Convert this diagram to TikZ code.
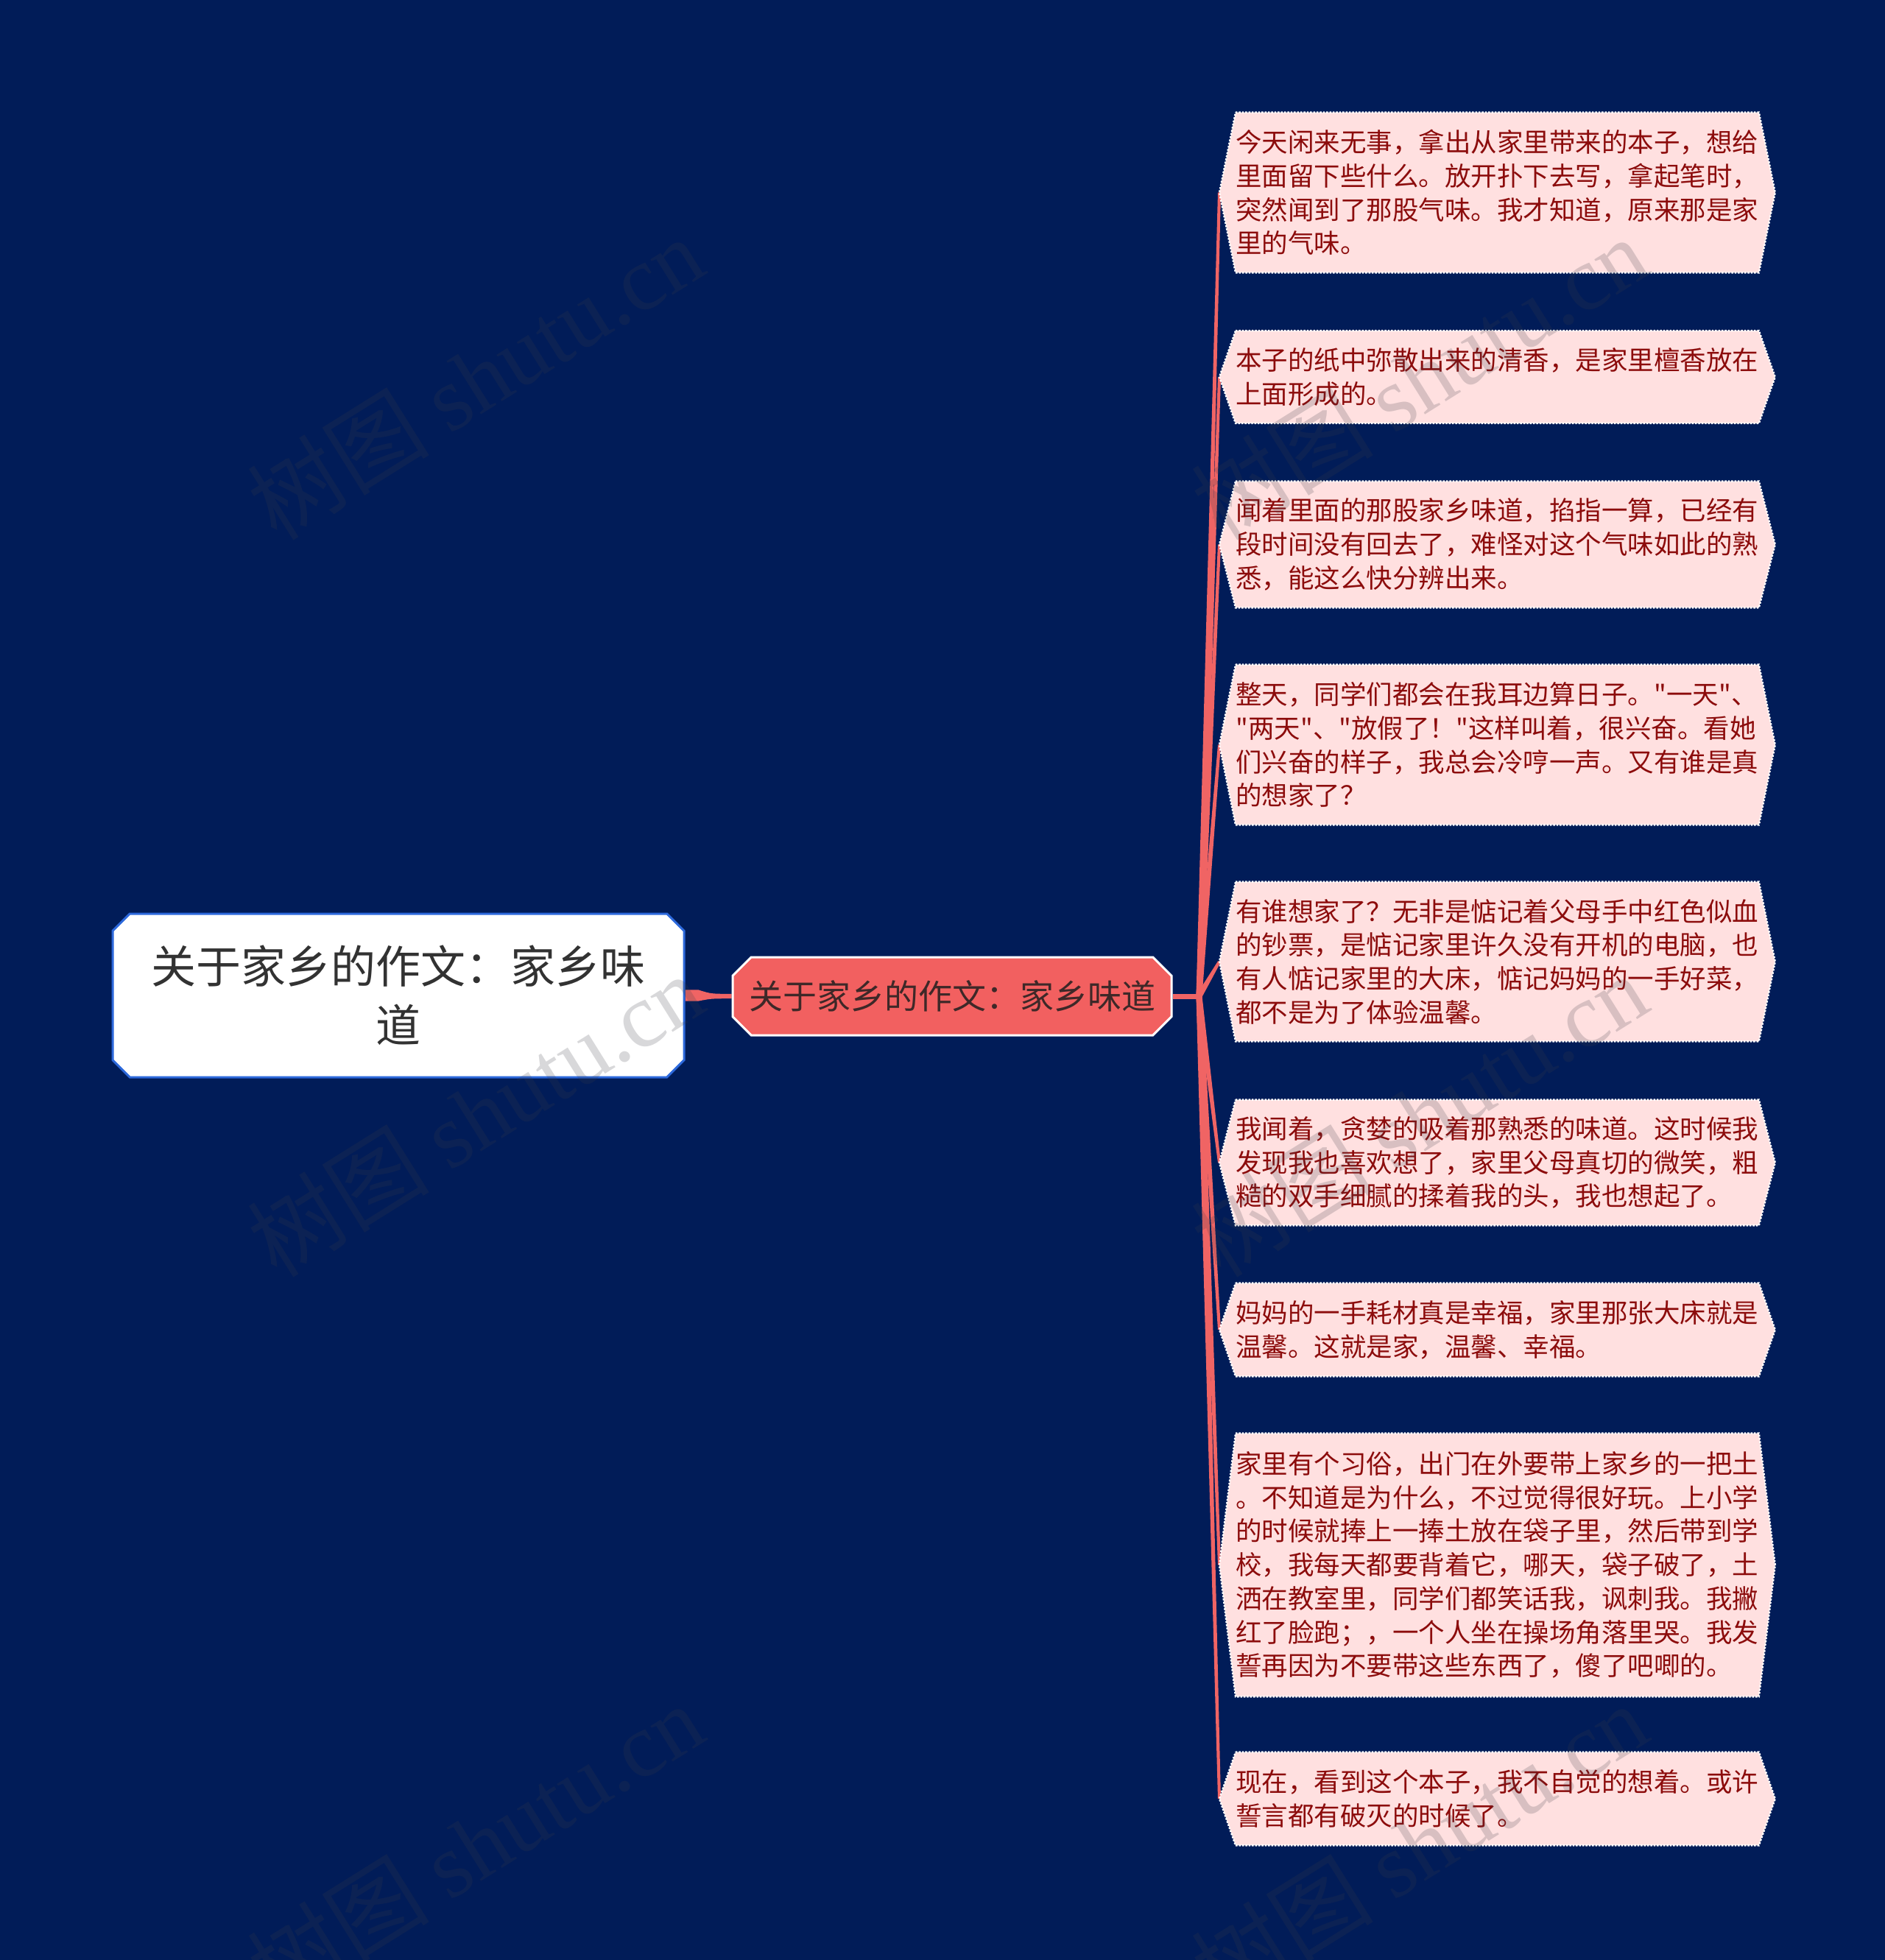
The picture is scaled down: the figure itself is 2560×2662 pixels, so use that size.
\documentclass[tikz,border=0pt]{standalone}
\usepackage{fontspec}
\setmainfont{Noto Sans CJK SC}
\newfontfamily\cjk{Noto Sans CJK SC}
\newfontfamily\wmlatin{Liberation Serif}
\usetikzlibrary{shapes.misc,calc}
\definecolor{bgc}{RGB}{1,28,88}
\definecolor{leaffill}{RGB}{255,224,224}
\definecolor{leaftext}{RGB}{140,12,12}
\definecolor{midfill}{RGB}{242,96,96}
\definecolor{midtext}{RGB}{62,40,40}
\definecolor{rootborder}{RGB}{45,105,220}
\definecolor{roottext}{RGB}{50,50,50}
\definecolor{connc}{RGB}{240,100,100}
\definecolor{wmc}{RGB}{60,60,70}
\pgfdeclarelayer{bglayer}
\pgfdeclarelayer{connlayer}
\pgfdeclarelayer{shapelayer}
\pgfsetlayers{bglayer,connlayer,shapelayer,main}
\tikzset{
  rootnode/.style={chamfered rectangle, chamfered rectangle xsep=8pt, draw=rootborder, line width=1.5pt, fill=white,
    minimum width=388pt, minimum height=111pt, inner sep=0pt, align=center, text=roottext,
    font=\cjk\fontsize{30.5}{40}\selectfont},
  midnode/.style={chamfered rectangle, chamfered rectangle xsep=9pt, draw=white, line width=1.5pt, fill=midfill,
    minimum width=298pt, minimum height=53pt, inner sep=0pt, text=midtext,
    font=\cjk\fontsize{23}{28}\selectfont},
  leafnode/.style={rectangle, anchor=west, inner sep=0pt, text width=355pt, align=left, text=leaftext,
    font=\cjk\fontsize{17.75}{22.85}\selectfont},
  leafshape/.style={fill=leaffill, draw=white, line width=1.2pt, densely dotted},
  wm/.style={text=wmc, opacity=0.2, font=\cjk\fontsize{62}{62}\selectfont, rotate=32}
}
\newcommand{\hexa}[1]{%
  \path[leafshape] (#1.north west) -- (#1.north east) -- ([xshift=11pt]#1.east) -- (#1.south east)
    -- (#1.south west) -- ([xshift=-11pt]#1.west) -- cycle;}
\newcommand{\taper}[2]{%
  \fill[connc] ($(#1)!2pt!90:(#2)$) -- ($(#2)!1pt!-90:(#1)$) -- ($(#2)!1pt!90:(#1)$) -- ($(#1)!2pt!-90:(#2)$) -- cycle;}
\begin{document}
\begin{tikzpicture}[x=0.5pt,y=-0.5pt]
\begin{pgfonlayer}{bglayer}
\fill[bgc] (0,0) rectangle (2560,2662);
\end{pgfonlayer}
\useasboundingbox (0,0) rectangle (2560,2662);

\node[rootnode] (root) at (541,1352) {关于家乡的作文：家乡味\\道};
\node[midnode] (mid) at (1293,1353) {关于家乡的作文：家乡味道};

\node[leafnode, minimum height=108.5pt] (l1) at (1678,261.5) {今天闲来无事，拿出从家里带来的本子，想给\\里面留下些什么。放开扑下去写，拿起笔时，\\突然闻到了那股气味。我才知道，原来那是家\\里的气味。};
\node[leafnode, minimum height=62.5pt] (l2) at (1678,512) {本子的纸中弥散出来的清香，是家里檀香放在\\上面形成的。};
\node[leafnode, minimum height=85.5pt] (l3) at (1678,739.5) {闻着里面的那股家乡味道，掐指一算，已经有\\段时间没有回去了，难怪对这个气味如此的熟\\悉，能这么快分辨出来。};
\node[leafnode, minimum height=108.5pt] (l4) at (1678,1011.5) {整天，同学们都会在我耳边算日子。"一天"、\\"两天"、"放假了！"这样叫着，很兴奋。看她\\们兴奋的样子，我总会冷哼一声。又有谁是真\\的想家了？};
\node[leafnode, minimum height=108pt] (l5) at (1678,1306) {有谁想家了？无非是惦记着父母手中红色似血\\的钞票，是惦记家里许久没有开机的电脑，也\\有人惦记家里的大床，惦记妈妈的一手好菜，\\都不是为了体验温馨。};
\node[leafnode, minimum height=85pt] (l6) at (1678,1579) {我闻着，贪婪的吸着那熟悉的味道。这时候我\\发现我也喜欢想了，家里父母真切的微笑，粗\\糙的双手细腻的揉着我的头，我也想起了。};
\node[leafnode, minimum height=63pt] (l7) at (1678,1806) {妈妈的一手耗材真是幸福，家里那张大床就是\\温馨。这就是家，温馨、幸福。};
\node[leafnode, minimum height=178.5pt] (l8) at (1678,2125.5) {家里有个习俗，出门在外要带上家乡的一把土\\。不知道是为什么，不过觉得很好玩。上小学\\的时候就捧上一捧土放在袋子里，然后带到学\\校，我每天都要背着它，哪天，袋子破了，土\\洒在教室里，同学们都笑话我，讽刺我。我撇\\红了脸跑；，一个人坐在操场角落里哭。我发\\誓再因为不要带这些东西了，傻了吧唧的。};
\node[leafnode, minimum height=63pt] (l9) at (1678,2443) {现在，看到这个本子，我不自觉的想着。或许\\誓言都有破灭的时候了。};

\begin{pgfonlayer}{shapelayer}
\foreach \n in {l1,l2,l3,l4,l5,l6,l7,l8,l9} {\hexa{\n}}
\end{pgfonlayer}

\coordinate (fork) at ([xshift=18pt]mid.east);
\foreach \n in {l1,l2,l3,l4,l5,l6,l7,l8,l9} {\coordinate (\n t) at ([xshift=-11pt]\n.west);}

\begin{pgfonlayer}{connlayer}
\fill[connc] ([yshift=3.8pt]root.east) -- ([yshift=3.8pt,xshift=9pt]root.east)
  .. controls ([yshift=1.6pt,xshift=-14pt]mid.west) .. ([yshift=1.6pt]mid.west)
  -- ([yshift=-1.6pt]mid.west)
  .. controls ([yshift=-1.6pt,xshift=-14pt]mid.west) .. ([yshift=-3.8pt,xshift=9pt]root.east)
  -- ([yshift=-3.8pt]root.east) -- cycle;
\draw[connc, line width=3.5pt] (mid.east) -- ([xshift=1pt]fork);
\foreach \n in {l1,l2,l3,l4,l5,l6,l7,l8,l9} {\taper{fork}{\n t}}
\end{pgfonlayer}

\node[wm] (wm1) at (645,513) {树图 {\wmlatin shutu.cn}};
\node[wm] (wm2) at (645,1514) {树图 {\wmlatin shutu.cn}};
\node[wm] (wm3) at (645,2505) {树图 {\wmlatin shutu.cn}};
\node[wm] (wm4) at (1927,513) {树图 {\wmlatin shutu.cn}};
\node[wm] (wm5) at (1927,1514) {树图 {\wmlatin shutu.cn}};
\node[wm] (wm6) at (1927,2505) {树图 {\wmlatin shutu.cn}};
\end{tikzpicture}
\end{document}
